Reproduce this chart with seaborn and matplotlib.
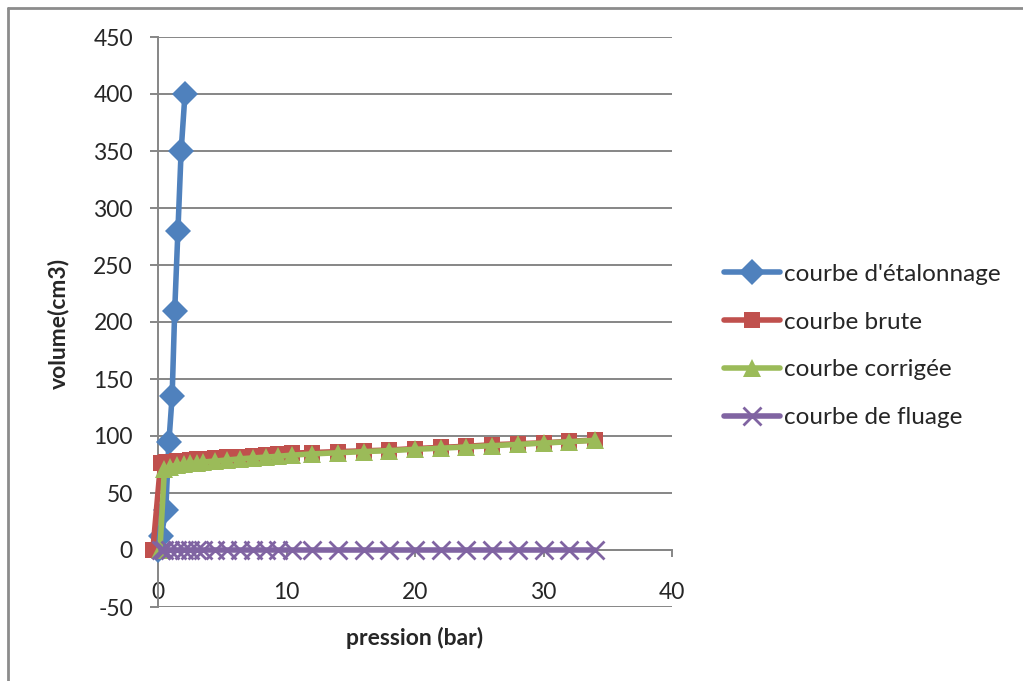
import matplotlib
matplotlib.use("Agg")
import matplotlib.pyplot as plt
from matplotlib.lines import Line2D
import seaborn as sns

# ---------------- data ----------------
pression_etal = [0.0, 0.25, 0.6, 0.85, 1.1, 1.3, 1.55, 1.8, 2.1]
volume_etal = [0, 12, 35, 95, 135, 210, 280, 350, 400]

pression_brute = [-0.4, 0.2, 0.6, 1.0, 1.5, 2.0, 2.5, 3.0, 3.6, 4.4, 5.4, 6.4, 7.4, 8.4, 9.3, 10.4,
                  12, 14, 16, 18, 20, 22, 24, 26, 28, 30, 32, 34]
volume_brute = [0, 76, 77, 77.5, 78, 78.5, 79, 79.5, 80, 80.5, 81.2, 82, 82.7, 83.4, 84, 85,
                85.5, 86.3, 87, 87.7, 89, 90, 91, 92.3, 93.2, 94, 95.3, 96.5]

pression_corrigee = [0.15, 0.5, 0.9, 1.5, 2.0, 2.5, 3.0, 3.5, 4.4, 5.4, 6.4, 7.4, 8.4, 9.3, 10.4,
                     12, 14, 16, 18, 20, 22, 24, 26, 28, 30, 32, 34]
volume_corrigee = [0, 71, 73, 74.5, 75.3, 76, 76.6, 77.2, 78, 79, 80, 80.8, 81.5, 82.2, 83.2,
                   84.3, 85.3, 86.3, 87.2, 88.3, 89.3, 90.4, 91.5, 92.6, 93.8, 95, 96.2]

pression_fluage = [0.25, 0.5, 0.9, 1.5, 2.0, 2.5, 3.0, 3.5, 4.4, 5.4, 6.4, 7.4, 8.4, 9.3, 10.4,
                   12, 14, 16, 18, 20, 22, 24, 26, 28, 30, 32, 34]
volume_fluage = [0, 0, 0, 0, 0, 0, 0, 0, 0, 0, 0, 0, 0, 0, 0,
                 0, 0, 0, 0, 0, 0, 0, 0, 0, 0, 0, 0]

series_labels = ["courbe d'étalonnage", "courbe brute", "courbe corrigée", "courbe de fluage"]
series_colors = ['#4F81BD', '#C0504D', '#9BBB59', '#8064A2']
x_ticks = [0, 10, 20, 30, 40]
y_ticks = [-50, 0, 50, 100, 150, 200, 250, 300, 350, 400, 450]

# ---------------- style ----------------
sns.set_style("white")
plt.rcParams['font.family'] = ['Lato', 'DejaVu Sans']
plt.rcParams['axes.unicode_minus'] = False

GRAY = '#868686'
FS = 16.5

fig = plt.figure(figsize=(10.23, 6.81), dpi=100)
ax = fig.add_axes([158 / 1023, 74 / 681, 514 / 1023, 570 / 681])

common = dict(ax=ax, sort=False, estimator=None, linewidth=4, clip_on=False)
sns.lineplot(x=pression_etal, y=volume_etal, color=series_colors[0], marker='D', markersize=13,
             markeredgewidth=0, markeredgecolor=series_colors[0], label=series_labels[0], zorder=3, **common)
sns.lineplot(x=pression_brute, y=volume_brute, color=series_colors[1], marker='s', markersize=11.5,
             markeredgewidth=0, markeredgecolor=series_colors[1], label=series_labels[1], zorder=4, **common)
sns.lineplot(x=pression_corrigee, y=volume_corrigee, color=series_colors[2], marker='^', markersize=13,
             markeredgewidth=0, markeredgecolor=series_colors[2], label=series_labels[2], zorder=5, **common)
sns.lineplot(x=pression_fluage, y=volume_fluage, color=series_colors[3], marker='x', markersize=13,
             markeredgewidth=2, markeredgecolor=series_colors[3], label=series_labels[3], zorder=6, **common)

ax.set_xlim(0, 40)
ax.set_ylim(-50, 450)
ax.set_xticks(x_ticks)
ax.set_yticks(y_ticks)
ax.set_axisbelow(True)
ax.yaxis.grid(True, color=GRAY, linewidth=1.4)
ax.xaxis.grid(False)

for s in ['top', 'right']:
    ax.spines[s].set_visible(False)
ax.spines['left'].set_color(GRAY)
ax.spines['left'].set_linewidth(1.4)
ax.spines['left'].set_zorder(1)
ax.spines['bottom'].set_position(('data', 0))
ax.spines['bottom'].set_color(GRAY)
ax.spines['bottom'].set_linewidth(1.4)
ax.spines['bottom'].set_zorder(1)

ax.tick_params(axis='y', length=6, width=1.4, color=GRAY, pad=12, labelsize=FS, direction='out', left=True)
ax.tick_params(axis='x', length=5, width=1.4, color=GRAY, pad=18, labelsize=FS, direction='out', bottom=True)
ax.set_xlabel('')
ax.set_ylabel('')

fig.text(415 / 1023, 1 - 638 / 681, 'pression (bar)', ha='center', va='center',
         fontsize=FS, fontweight='bold')
fig.text(58 / 1023, 1 - 323 / 681, 'volume(cm3)', ha='center', va='center',
         rotation=90, fontsize=FS, fontweight='bold')

handles, labels = ax.get_legend_handles_labels()
if ax.get_legend() is not None:
    ax.get_legend().remove()
fig.legend(handles, labels, loc='center left', bbox_to_anchor=(724 / 1023, 1 - 346 / 681),
           frameon=False, fontsize=17.5, handlelength=2.3, handletextpad=0.15,
           labelspacing=1.1, borderpad=0, borderaxespad=0)

# outer chart border (top and left visible)
fig.add_artist(Line2D([8 / 1023, 1.0], [1 - 8 / 681, 1 - 8 / 681], transform=fig.transFigure,
                      color='#8c8c8c', linewidth=2))
fig.add_artist(Line2D([8 / 1023, 8 / 1023], [0.0, 1 - 8 / 681], transform=fig.transFigure,
                      color='#8c8c8c', linewidth=2))

fig.savefig('out.png', dpi=100)
